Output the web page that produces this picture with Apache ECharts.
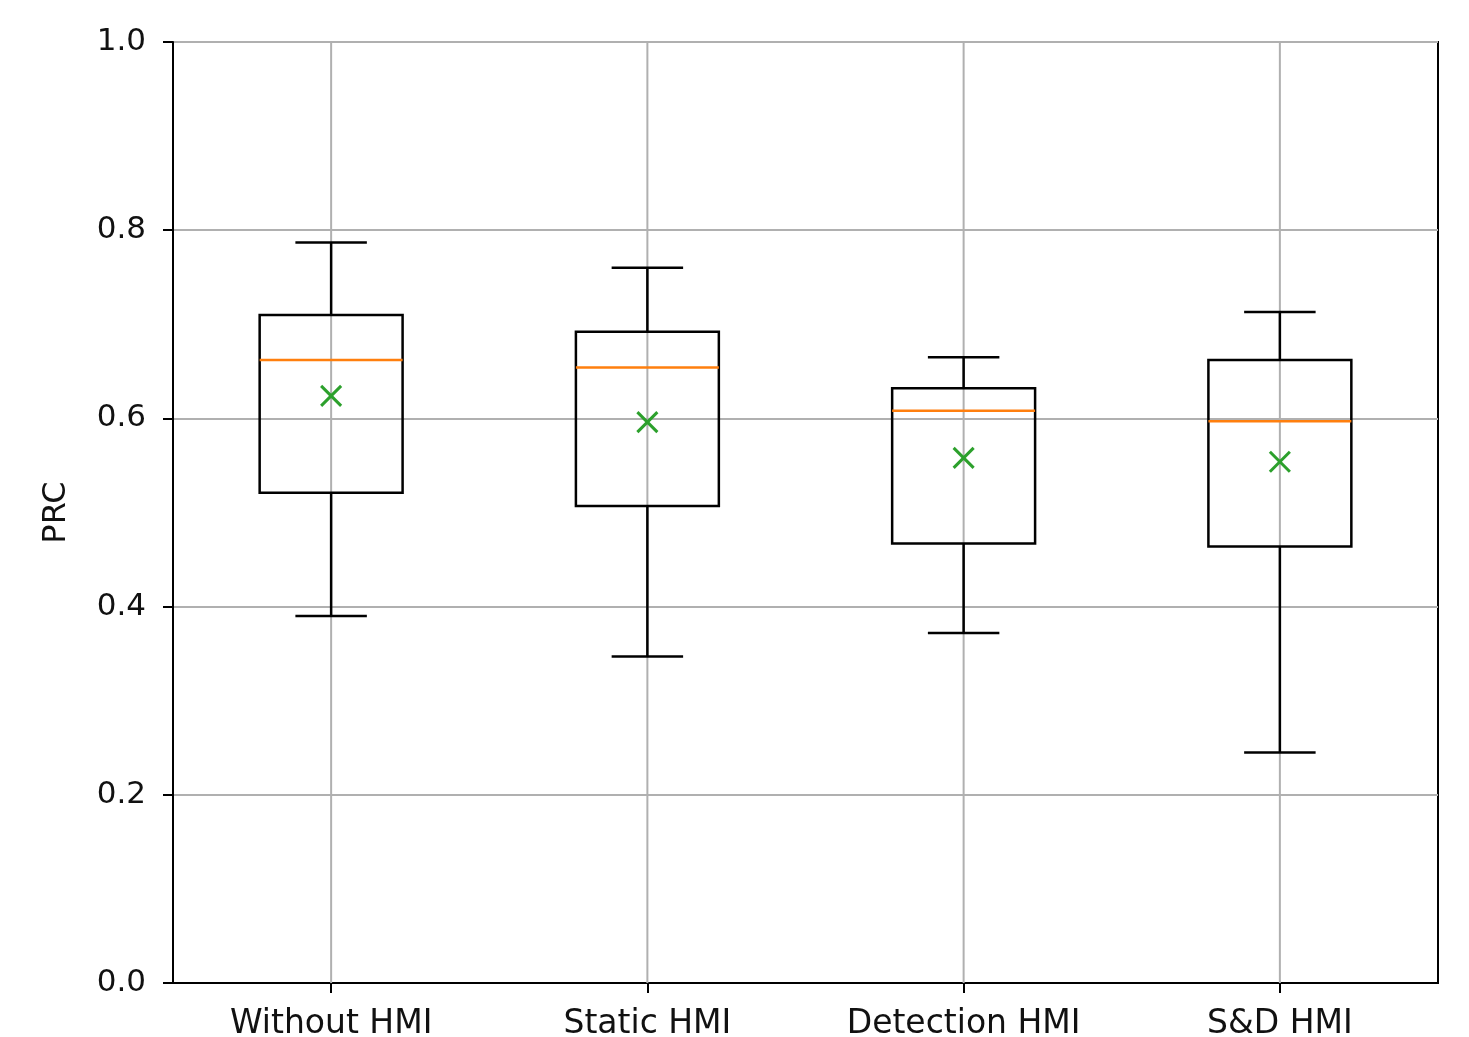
<!DOCTYPE html>
<html>
<head>
<meta charset="utf-8">
<script src="https://cdn.jsdelivr.net/npm/echarts@6/dist/echarts.min.js"></script>
<style>
html,body{margin:0;padding:0;background:#fff;}
#chart{width:1469px;height:1037px;}
</style>
</head>
<body>
<div id="chart"></div>
<script>
// Data
const categories = ['Without HMI', 'Static HMI', 'Detection HMI', 'S&D HMI'];
const whiskerLow  = [0.390, 0.347, 0.372, 0.245];
const q1          = [0.521, 0.507, 0.467, 0.464];
const median      = [0.662, 0.654, 0.608, 0.597];
const q3          = [0.710, 0.692, 0.632, 0.662];
const whiskerHigh = [0.787, 0.760, 0.665, 0.713];
const means       = [0.624, 0.596, 0.558, 0.554];
const yTicks      = [0, 0.2, 0.4, 0.6, 0.8, 1.0];

const boxData = categories.map((c, i) => [i, whiskerLow[i], q1[i], median[i], q3[i], whiskerHigh[i], means[i]]);
const gridData = categories.map((c, i) => [i]);

const FONT = 'DejaVu Sans';
const chart = echarts.init(document.getElementById('chart'), null, {renderer: 'canvas'});

function renderBox(params, api) {
  const x = api.value(0);
  const bw = api.size([1, 0])[0] * 0.452;
  const cw = bw / 2;
  const pLow = api.coord([x, api.value(1)]);
  const pQ1 = api.coord([x, api.value(2)]);
  const pMed = api.coord([x, api.value(3)]);
  const pQ3 = api.coord([x, api.value(4)]);
  const pHigh = api.coord([x, api.value(5)]);
  const pMean = api.coord([x, api.value(6)]);
  const cx = pQ1[0];
  const black = {stroke: '#000', lineWidth: 2.5, fill: null};
  const m = 10;
  return {
    type: 'group',
    children: [
      {type: 'line', shape: {x1: cx, y1: pQ3[1], x2: cx, y2: pHigh[1]}, style: black},
      {type: 'line', shape: {x1: cx, y1: pQ1[1], x2: cx, y2: pLow[1]}, style: black},
      {type: 'line', shape: {x1: cx - cw/2, y1: pHigh[1], x2: cx + cw/2, y2: pHigh[1]}, style: black},
      {type: 'line', shape: {x1: cx - cw/2, y1: pLow[1], x2: cx + cw/2, y2: pLow[1]}, style: black},
      {type: 'rect', shape: {x: cx - bw/2, y: pQ3[1], width: bw, height: pQ1[1] - pQ3[1]}, style: black},
      {type: 'line', shape: {x1: cx - bw/2, y1: pMed[1], x2: cx + bw/2, y2: pMed[1]}, style: {stroke: '#ff7f0e', lineWidth: 2.5}},
      {type: 'line', shape: {x1: pMean[0] - m, y1: pMean[1] - m, x2: pMean[0] + m, y2: pMean[1] + m}, style: {stroke: '#2ca02c', lineWidth: 3}},
      {type: 'line', shape: {x1: pMean[0] - m, y1: pMean[1] + m, x2: pMean[0] + m, y2: pMean[1] - m}, style: {stroke: '#2ca02c', lineWidth: 3}}
    ]
  };
}

function renderVGrid(params, api) {
  const x = api.value(0);
  const top = api.coord([x, 1.0]);
  const bot = api.coord([x, 0.0]);
  return {type: 'line', shape: {x1: top[0], y1: top[1], x2: bot[0], y2: bot[1]}, style: {stroke: '#b0b0b0', lineWidth: 2}};
}

chart.setOption({
  animation: false,
  backgroundColor: '#fff',
  grid: {left: 173, right: 31, top: 42, bottom: 54, show: true, borderColor: '#000', borderWidth: 2, backgroundColor: 'transparent', containLabel: false, outerBoundsMode: 'none'},
  xAxis: {
    type: 'category',
    data: categories,
    boundaryGap: true,
    axisLine: {show: true, lineStyle: {color: '#000', width: 2}},
    axisTick: {show: true, alignWithLabel: true, length: 10, lineStyle: {color: '#000', width: 2}},
    axisLabel: {color: '#111', fontFamily: FONT, fontSize: 33, margin: 25},
    splitLine: {show: false}
  },
  yAxis: {
    type: 'value',
    min: 0, max: 1.0, interval: 0.2,
    name: 'PRC',
    nameLocation: 'middle',
    nameGap: 100,
    nameRotate: 90,
    nameTextStyle: {color: '#111', fontFamily: FONT, fontSize: 32},
    axisLine: {show: true, lineStyle: {color: '#000', width: 2}},
    axisTick: {show: true, length: 10, lineStyle: {color: '#000', width: 2}},
    axisLabel: {color: '#111', fontFamily: FONT, fontSize: 31, margin: 27, formatter: v => v.toFixed(1)},
    splitLine: {show: true, lineStyle: {color: '#b0b0b0', width: 2}}
  },
  series: [
    {type: 'custom', renderItem: renderVGrid, data: gridData, encode: {x: 0}, z: 1, silent: true},
    {type: 'custom', renderItem: renderBox, data: boxData, encode: {x: 0, y: [1, 2, 3, 4, 5, 6]}, z: 5, clip: false}
  ]
});
</script>
</body>
</html>
